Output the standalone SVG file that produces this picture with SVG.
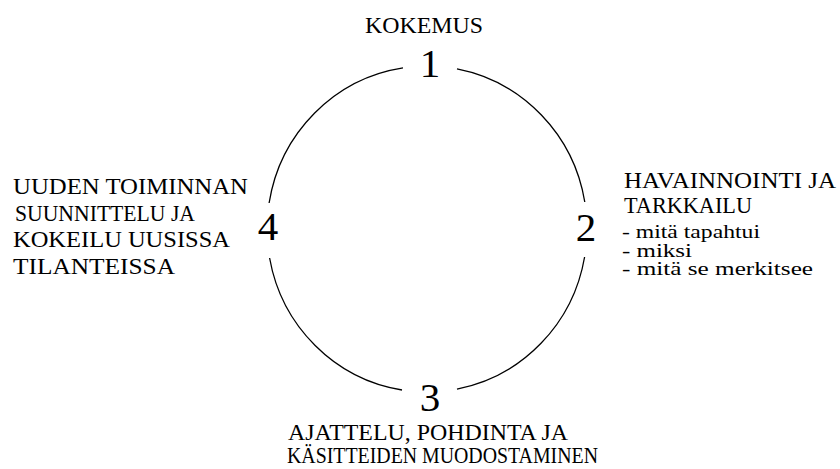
<svg xmlns="http://www.w3.org/2000/svg" width="840" height="469" viewBox="0 0 840 469">
<style>
  text { font-family: "Liberation Serif", "Times New Roman", serif; fill: #000; }
  .t { font-size: 23px; }
  .s { font-size: 18px; }
  .n { font-size: 41px; text-anchor: middle; }
  .arc { fill: none; stroke: #000; stroke-width: 1.3; }
</style>
<rect width="840" height="469" fill="#fff"/>
<g id="connectors">
  <path class="arc" d="M457,68.9 A160,163 0 0 1 584.8,202"/>
  <path class="arc" d="M584.6,257 A160,163 0 0 1 457,389.1"/>
  <path class="arc" d="M402,390 A160,163 0 0 1 269.6,258"/>
  <path class="arc" d="M269.1,203 A160,163 0 0 1 403,67.8"/>
</g>
<g id="node1">
  <text class="t" x="365" y="33" textLength="118" lengthAdjust="spacingAndGlyphs">KOKEMUS</text>
  <text class="n" x="430" y="77">1</text>
</g>
<g id="node2">
  <text class="n" x="586" y="241">2</text>
  <text class="t" x="624" y="188" textLength="212" lengthAdjust="spacingAndGlyphs">HAVAINNOINTI JA</text>
  <text class="t" x="624" y="213" textLength="128" lengthAdjust="spacingAndGlyphs">TARKKAILU</text>
  <text class="s" x="622" y="238" textLength="138" lengthAdjust="spacingAndGlyphs">- mitä tapahtui</text>
  <text class="s" x="622" y="256.5" textLength="70" lengthAdjust="spacingAndGlyphs">- miksi</text>
  <text class="s" x="622" y="275" textLength="191" lengthAdjust="spacingAndGlyphs">- mitä se merkitsee</text>
</g>
<g id="node3">
  <text class="n" x="430" y="411">3</text>
  <text class="t" x="288" y="440" textLength="280" lengthAdjust="spacingAndGlyphs">AJATTELU, POHDINTA JA</text>
  <text class="t" x="287" y="463" textLength="311" lengthAdjust="spacingAndGlyphs">KÄSITTEIDEN MUODOSTAMINEN</text>
</g>
<g id="node4">
  <text class="n" x="268" y="240">4</text>
  <text class="t" x="13" y="194" textLength="235" lengthAdjust="spacingAndGlyphs">UUDEN TOIMINNAN</text>
  <text class="t" x="15" y="220.5" textLength="180" lengthAdjust="spacingAndGlyphs">SUUNNITTELU JA</text>
  <text class="t" x="13" y="247" textLength="217" lengthAdjust="spacingAndGlyphs">KOKEILU UUSISSA</text>
  <text class="t" x="13" y="273.5" textLength="162" lengthAdjust="spacingAndGlyphs">TILANTEISSA</text>
</g>
</svg>
